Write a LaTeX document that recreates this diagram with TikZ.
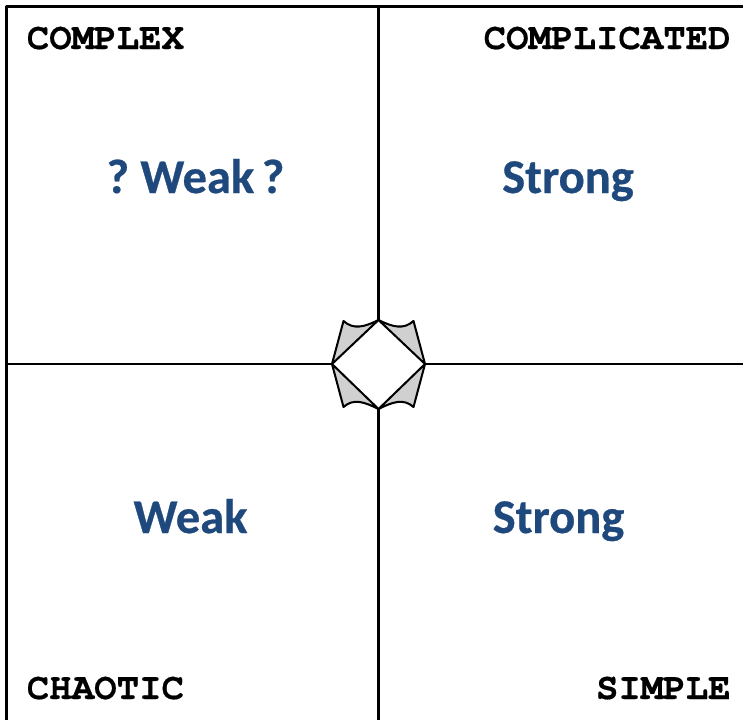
\documentclass[tikz,border=0pt]{standalone}
\usepackage{fontspec}
\newfontfamily\labelfont{TeX Gyre Cursor}[BoldFeatures={FakeBold=0.4}]
\newfontfamily\valuefont{Carlito}[BoldFeatures={FakeBold=0.6},WordSpace=0.7]
\usetikzlibrary{calc}
\definecolor{valueblue}{RGB}{31,73,125}
\definecolor{cornergray}{RGB}{208,208,208}
\tikzset{
  domainlabel/.style={font=\labelfont\bfseries\fontsize{21.3}{24}\selectfont,inner sep=0pt},
  valuelabel/.style={font=\valuefont\bfseries\fontsize{27.6}{30}\selectfont,text=valueblue,inner sep=0pt},
  frameline/.style={line width=1.15pt,line join=round}
}
\begin{document}
\begin{tikzpicture}[x=0.02cm,y=-0.02cm]
        \useasboundingbox (0,0) rectangle (743,720);

        % 外枠と十字
        \coordinate (center) at (378.5,364);
        \coordinate (top) at ($(center)+(0,-44)$);
        \coordinate (bottom) at ($(center)+(0,45)$);
        \coordinate (left) at ($(center)+(-46.5,0)$);
        \coordinate (right) at ($(center)+(46.5,0)$);
        \draw[frameline] (6.5,720) -- (6.5,6.5) -- (743,6.5);
        \draw[frameline] (378.5,6.5) -- (top);
        \draw[frameline] (bottom) -- (378.5,720);
        \draw[frameline] (6.5,364) -- (left);
        \draw[frameline] (right) -- (743,364);

        % 中央の図形
        \coordinate (tl) at ($(center)+(-35,-43)$);
        \coordinate (tr) at ($(center)+(35,-43)$);
        \coordinate (bl) at ($(center)+(-35,43)$);
        \coordinate (br) at ($(center)+(35,43)$);
        \draw[frameline,fill=cornergray] (top) .. controls ($(top)+(-14,7)$) and ($(tl)+(10,9)$) .. (tl) -- (left) -- cycle;
        \draw[frameline,fill=cornergray] (top) .. controls ($(top)+(14,7)$) and ($(tr)+(-10,9)$) .. (tr) -- (right) -- cycle;
        \draw[frameline,fill=cornergray] (bottom) .. controls ($(bottom)+(-14,-7)$) and ($(bl)+(10,-9)$) .. (bl) -- (left) -- cycle;
        \draw[frameline,fill=cornergray] (bottom) .. controls ($(bottom)+(14,-7)$) and ($(br)+(-10,-9)$) .. (br) -- (right) -- cycle;

        % 領域名
        \node[domainlabel,anchor=base west] (complex) at (26.5,49) {COMPLEX};
        \node[domainlabel,anchor=base east] (complicated) at (731,49) {COMPLICATED};
        \node[domainlabel,anchor=base west] (chaotic) at (26.5,699) {CHAOTIC};
        \node[domainlabel,anchor=base east] (simple) at (731,699) {SIMPLE};

        % 値
        \node[valuelabel,anchor=base] (weakq) at (195.5,193) {? Weak ?};
        \node[valuelabel,anchor=base] (strongtop) at (568,193) {Strong};
        \node[valuelabel,anchor=base] (weak) at (190.5,533) {Weak};
        \node[valuelabel,anchor=base] (strongbottom) at (558.5,533) {Strong};
\end{tikzpicture}
\end{document}
